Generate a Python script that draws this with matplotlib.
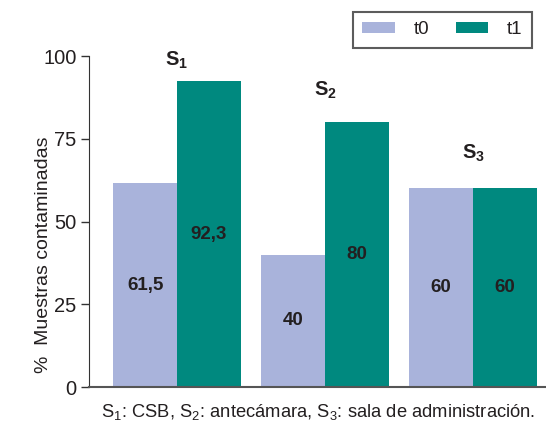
import numpy as np
import matplotlib.pyplot as plt

plt.rcParams['font.family'] = ['Liberation Sans', 'DejaVu Sans']
plt.rcParams['mathtext.default'] = 'regular'

# Datos
sitios = ['S$_1$', 'S$_2$', 'S$_3$']
t0 = [61.5, 40, 60]
t1 = [92.3, 80, 60]
etiquetas_t0 = ['61,5', '40', '60']
etiquetas_t1 = ['92,3', '80', '60']
pos_sitio = [98.8, 89.7, 70.7]  # altura de la etiqueta S

color_t0 = '#a9b3db'
color_t1 = '#00897f'
texto = '#231f20'

fig = plt.figure(figsize=(5.46, 4.23), dpi=100)
ax = fig.add_axes([0.163, 0.085, 0.837, 0.7826])

x = np.arange(len(sitios))
w = 0.432
b0 = ax.bar(x - w / 2, t0, w, color=color_t0, label='t0')
b1 = ax.bar(x + w / 2, t1, w, color=color_t1, label='t1')

for i in range(len(sitios)):
    ax.text(x[i] - w / 2, t0[i] / 2, etiquetas_t0[i], ha='center', va='center',
            fontsize=13.5, fontweight='bold', color=texto)
    ax.text(x[i] + w / 2, t1[i] / 2, etiquetas_t1[i], ha='center', va='center',
            fontsize=13.5, fontweight='bold', color=texto)
    ax.text(x[i], pos_sitio[i], sitios[i], ha='center', va='center',
            fontsize=14.5, fontweight='bold', color=texto)

ax.set_xlim(-0.595, 2.493)
ax.set_ylim(0, 100)
ax.set_yticks([0, 25, 50, 75, 100])
ax.set_xticks([])
ax.tick_params(axis='y', direction='out', length=6, width=1, colors='#333333',
               labelsize=14.5, labelcolor=texto, pad=3)
ax.spines['top'].set_visible(False)
ax.spines['right'].set_visible(False)
ax.spines['left'].set_color('#333333')
ax.spines['bottom'].set_color('#555555')
ax.spines['bottom'].set_linewidth(1.5)
ax.set_ylabel('%  Muestras contaminadas', fontsize=14, color=texto)
ax.yaxis.set_label_coords(-0.082, 0.40)

leg = fig.legend(loc='upper right', bbox_to_anchor=(532 / 546, 1 - 12 / 423), ncol=2,
                 fontsize=13.5, frameon=True, fancybox=False, edgecolor='#333333',
                 handlelength=1.75, handleheight=0.55, handletextpad=1.0,
                 columnspacing=1.4, borderpad=0.5, borderaxespad=0)
leg.get_frame().set_linewidth(1.5)
for t in leg.get_texts():
    t.set_color(texto)

fig.text(318 / 546, 1 - 412 / 423,
         'S$_1$: CSB, S$_2$: antecámara, S$_3$: sala de administración.',
         ha='center', va='center', fontsize=13.2, color=texto)

plt.savefig('out.png', dpi=100)
